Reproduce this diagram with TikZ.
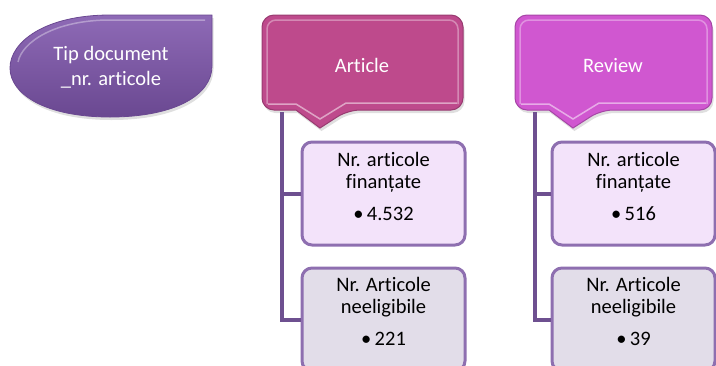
\documentclass[tikz,border=0pt]{standalone}
\usepackage{fontspec}
\setmainfont{Carlito}[Ligatures=NoCommon]
\usetikzlibrary{shadows}
\definecolor{leafc}{HTML}{7B56A3}
\definecolor{leaftop}{HTML}{8E6AB6}
\definecolor{leafbot}{HTML}{6A4891}
\definecolor{artc}{HTML}{BE4A8C}
\definecolor{revc}{HTML}{D057D0}
\definecolor{linec}{HTML}{6E5090}
\definecolor{boxa}{HTML}{F3E3FA}
\definecolor{boxb}{HTML}{E2DDE9}
\definecolor{boxline}{HTML}{8E6FB0}
\tikzset{
  txt/.style={font=\fontsize{20.5}{22}\selectfont, align=center, inner sep=0pt},
  wtxt/.style={txt, text=white},
  conn/.style={draw=linec, line width=4pt},
  boxstyle/.style={draw=boxline, line width=3pt, rounded corners=10pt, minimum width=163pt, minimum height=103pt},
  boxone/.style={boxstyle, fill=boxa},
  boxtwo/.style={boxstyle, fill=boxb},
  callout/.style={line width=1pt, drop shadow={opacity=0.25, shadow xshift=1.5pt, shadow yshift=-3pt}},
  gloss/.style={draw=white, draw opacity=0.35, line width=1.5pt},
}
\begin{document}
\begin{tikzpicture}[x=1pt, y=-1pt]
\useasboundingbox (0,0) rectangle (716,365);
% leaf
\path[top color=leaftop, bottom color=leafbot, draw=leafbot, line width=0.8pt,
      drop shadow={opacity=0.25, shadow xshift=1.5pt, shadow yshift=-3pt}]
  (212,15) -- (110,15) .. controls (45,15) and (10,42) .. (10,68)
  .. controls (10,94) and (45,117) .. (110,117)
  .. controls (175,117) and (212,95) .. (212,66) -- cycle;
\path[gloss] (205,20) -- (110,20) .. controls (55,20) and (22,42) .. (18,62);
\node[wtxt, font=\fontsize{20.5}{25}\selectfont, anchor=base] (tip) at (111,85) {Tip document\\\_nr. articole};
% Article callout
\path[callout, fill=artc, draw=artc!80!black, rounded corners=12pt]
  (262,15) -- (463,15) -- (463,110) -- (348,110) [sharp corners] -- (320,128) -- (296,110) [rounded corners=12pt] -- (262,110) -- cycle;
\path[gloss, rounded corners=9pt] (267,104) -- (267,20) -- (458,20) -- (458,104);
\path[gloss, draw opacity=0.5] (268,104) -- (296,104) -- (320,119) -- (346,103) -- (457,103);
\node[wtxt, anchor=base] (art) at (362,72) {Article};
% Review callout
\path[callout, fill=revc, draw=revc!80!black, rounded corners=12pt]
  (515,15) -- (712,15) -- (712,110) -- (601,110) [sharp corners] -- (573,128) -- (549,110) [rounded corners=12pt] -- (515,110) -- cycle;
\path[gloss, rounded corners=9pt] (520,104) -- (520,20) -- (707,20) -- (707,104);
\path[gloss, draw opacity=0.5] (521,104) -- (549,104) -- (573,119) -- (599,103) -- (706,103);
\node[wtxt, anchor=base] (rev) at (613,72) {Review};
% boxes
\node[boxone] (a1) at (383.5,193.5) {};
\node[boxtwo] (a2) at (383.5,319.5) {};
\node[boxone] (r1) at (633.5,193.5) {};
\node[boxtwo] (r2) at (633.5,319.5) {};
\node[txt, anchor=base] (a1t) at (383.5,220) {Nr. articole\\finanțate\\[10pt]•\,4.532};
\node[txt, anchor=base] (a2t) at (383.5,345) {Nr. Articole\\neeligibile\\[10pt]•\,221};
\node[txt, anchor=base] (r1t) at (633.5,220) {Nr. articole\\finanțate\\[10pt]•\,516};
\node[txt, anchor=base] (r2t) at (633.5,345) {Nr. Articole\\neeligibile\\[10pt]•\,39};
% connectors
\coordinate (atop) at (282,112);
\coordinate (rtop) at (535,112);
\draw[conn] (atop) |- (a2.west);
\draw[conn] (atop |- a1.west) -- (a1.west);
\draw[conn] (rtop) |- (r2.west);
\draw[conn] (rtop |- r1.west) -- (r1.west);
\end{tikzpicture}
\end{document}
